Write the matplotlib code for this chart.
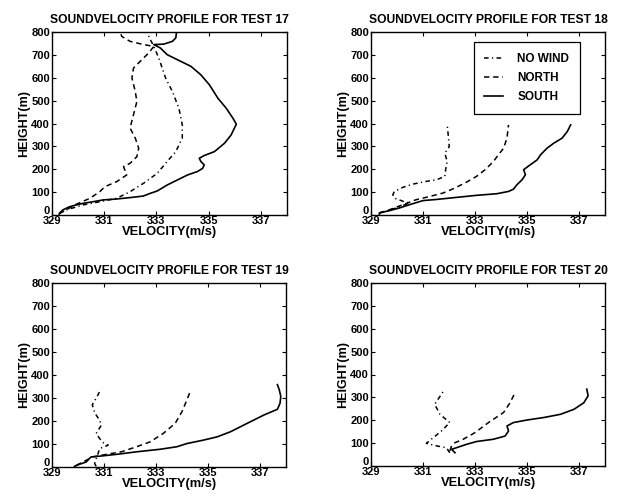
import matplotlib
matplotlib.use("Agg")
import matplotlib.pyplot as plt
import matplotlib.transforms as mtransforms

plt.rcParams['font.family'] = ['Liberation Sans', 'DejaVu Sans']

# ---------------- data (velocity m/s, height m) ----------------
tests = ["17", "18", "19", "20"]
xticks = [329, 331, 333, 335, 337]
yticks = [0, 100, 200, 300, 400, 500, 600, 700, 800]
series_names = ["NO WIND", "NORTH", "SOUTH"]

t17_nowind_v = [329.28, 329.54, 330.19, 330.83, 331.48, 331.99, 332.51, 333.03, 333.41, 333.74, 333.99, 333.99, 333.86, 333.61, 333.35, 333.09, 332.9, 332.75, 332.64]
t17_nowind_h = [7, 22, 44, 58, 73, 102, 139, 182, 234, 277, 336, 394, 467, 540, 599, 686, 737, 770, 800]
t17_north_v = [329.28, 329.54, 329.93, 330.45, 330.83, 331.03, 331.48, 331.86, 331.74, 331.99, 332.25, 332.32, 332.19, 331.99, 332.12, 332.25, 332.19, 332.06, 332.12, 332.38, 332.7, 332.9, 332.51, 331.99, 331.67, 331.61]
t17_north_h = [7, 22, 47, 73, 102, 124, 146, 175, 212, 226, 255, 292, 336, 380, 438, 496, 540, 599, 642, 672, 708, 737, 745, 759, 781, 800]
t17_south_v = [329.28, 329.28, 329.41, 329.67, 329.93, 330.19, 330.57, 330.96, 331.48, 331.99, 332.5, 332.77, 333.03, 333.41, 333.8, 334.19, 334.57, 334.77, 334.83, 334.70, 334.64, 334.83, 335.22, 335.61, 335.86, 336.06, 335.93, 335.67, 335.35, 335.03, 334.70, 334.32, 333.8, 333.41, 333.15, 332.9, 333.28, 333.61, 333.74, 333.77]
t17_south_h = [0, 7, 22, 36, 44, 51, 58, 66, 70, 76, 83, 95, 105, 131, 153, 175, 190, 204, 219, 234, 248, 260, 277, 314, 350, 397, 423, 467, 511, 569, 613, 650, 679, 701, 730, 745, 747, 759, 774, 800]

t18_nowind_v = [329.32, 329.58, 329.97, 330.48, 330.23, 329.9, 329.84, 329.9, 330.23, 330.61, 331.13, 331.52, 331.84, 331.88, 331.93, 331.84, 332.01, 331.97, 331.93]
t18_nowind_h = [9, 16, 31, 52, 60, 74, 89, 103, 121, 135, 147, 154, 169, 205, 234, 270, 299, 350, 394]
t18_north_v = [329.32, 329.71, 330.23, 330.74, 331.26, 331.77, 332.23, 332.68, 333.06, 333.39, 333.71, 333.9, 334.1, 334.23, 334.29]
t18_north_h = [9, 23, 45, 67, 81, 96, 118, 144, 169, 198, 234, 263, 292, 336, 394]
t18_south_v = [329.32, 329.32, 329.71, 330.1, 330.48, 331.0, 331.52, 332.29, 333.06, 333.84, 334.29, 334.48, 334.61, 334.81, 334.94, 334.87, 335.13, 335.39, 335.52, 335.77, 336.03, 336.35, 336.55, 336.68]
t18_south_h = [0, 9, 19, 31, 45, 63, 68, 77, 86, 93, 103, 113, 132, 154, 176, 198, 220, 241, 263, 292, 314, 336, 365, 394]

t19_nowind_v = [330.7, 330.64, 330.7, 330.77, 330.83, 331.16, 331.0, 330.83, 330.7, 330.9, 330.83, 330.65, 330.55, 330.77, 330.86]
t19_nowind_h = [3, 15, 36, 58, 80, 95, 102, 124, 146, 182, 204, 234, 270, 314, 336]
t19_north_v = [329.93, 330.19, 330.57, 331.09, 331.67, 332.25, 332.77, 333.28, 333.74, 334.0, 334.19, 334.29]
t19_north_h = [7, 22, 44, 55, 66, 88, 109, 146, 190, 241, 292, 321]
t19_south_v = [329.86, 329.86, 330.06, 330.32, 330.43, 330.51, 330.83, 331.48, 332.25, 333.15, 333.8, 334.19, 334.83, 335.35, 335.86, 336.51, 337.15, 337.67, 337.77, 337.8, 337.74, 337.67]
t19_south_h = [0, 3, 12, 22, 36, 44, 47, 55, 66, 77, 88, 102, 117, 131, 153, 190, 226, 251, 277, 307, 336, 358]

t20_nowind_v = [332.03, 331.9, 331.52, 331.13, 331.32, 331.71, 332.03, 331.65, 331.45, 331.77]
t20_nowind_h = [58, 80, 88, 99, 117, 153, 190, 226, 270, 324]
t20_north_v = [332.03, 332.1, 332.23, 332.55, 333.0, 333.52, 334.1, 334.35, 334.51]
t20_north_h = [66, 88, 102, 117, 146, 190, 234, 277, 314]
t20_south_v = [332.23, 332.1, 332.29, 332.68, 333.06, 333.71, 334.16, 334.29, 334.23, 334.48, 335.0, 335.65, 336.29, 336.81, 337.19, 337.35, 337.3]
t20_south_h = [58, 73, 80, 95, 107, 117, 131, 153, 175, 190, 201, 212, 226, 248, 277, 307, 336]

panel_data = {
    "17": [(t17_nowind_v, t17_nowind_h), (t17_north_v, t17_north_h), (t17_south_v, t17_south_h)],
    "18": [(t18_nowind_v, t18_nowind_h), (t18_north_v, t18_north_h), (t18_south_v, t18_south_h)],
    "19": [(t19_nowind_v, t19_nowind_h), (t19_north_v, t19_north_h), (t19_south_v, t19_south_h)],
    "20": [(t20_nowind_v, t20_nowind_h), (t20_north_v, t20_north_h), (t20_south_v, t20_south_h)],
}

# ---------------- styling ----------------
W, H = 624, 497
fig = plt.figure(figsize=(W / 100, H / 100), dpi=100)

# axes rectangles in pixels: left, top, right, bottom
rects = {
    "17": (52, 32, 287, 215),
    "18": (371, 32, 605, 215),
    "19": (52, 283, 286, 467),
    "20": (371, 283, 605, 466),
}
styles = [
    dict(linestyle=(0, (3.0, 2.2, 0.8, 2.2)), linewidth=1.1),
    dict(linestyle=(0, (3.5, 2.5)), linewidth=1.1),
    dict(linestyle='-', linewidth=1.2),
]

up_offset = mtransforms.ScaledTranslation(0, 3.5 / 72, fig.dpi_scale_trans)

for t in tests:
    l, tp, r, b = rects[t]
    ax = fig.add_axes([l / W, 1 - b / H, (r - l) / W, (b - tp) / H])
    handles = []
    for (v, h), st, name in zip(panel_data[t], styles, series_names):
        ln, = ax.plot(v, h, color='black', label=name, **st)
        handles.append(ln)
    ax.set_xlim(329, 338)
    ax.set_ylim(0, 800)
    ax.set_xticks(xticks)
    ax.set_yticks(yticks)
    ax.tick_params(direction='in', top=True, right=True, length=3, width=0.8,
                   labelsize=8, pad=1.5)
    ax.tick_params(axis='x', pad=1.0)
    for lab in ax.get_xticklabels() + ax.get_yticklabels():
        lab.set_fontweight('bold')
    zero_lab = ax.get_yticklabels()[0]
    zero_lab.set_transform(zero_lab.get_transform() + up_offset)
    for sp in ax.spines.values():
        sp.set_linewidth(1.0)
    ax.set_title("SOUNDVELOCITY PROFILE FOR TEST " + t, fontsize=8.7,
                 fontweight='bold', pad=6.5)
    ax.set_xlabel("VELOCITY(m/s)", fontsize=9.3, fontweight='bold', labelpad=0)
    ax.set_ylabel("HEIGHT(m)", fontsize=9.0, fontweight='bold', labelpad=1)
    if t == "18":
        leg = ax.legend(handles=handles, loc='upper right',
                        bbox_to_anchor=(0.893, 0.944), borderaxespad=0,
                        prop={'weight': 'bold', 'size': 8.5},
                        handlelength=1.6, handletextpad=1.2,
                        borderpad=0.9, labelspacing=0.6, fancybox=False,
                        framealpha=1, edgecolor='black')
        leg.get_frame().set_linewidth(0.9)

fig.savefig("out.png", dpi=100)
